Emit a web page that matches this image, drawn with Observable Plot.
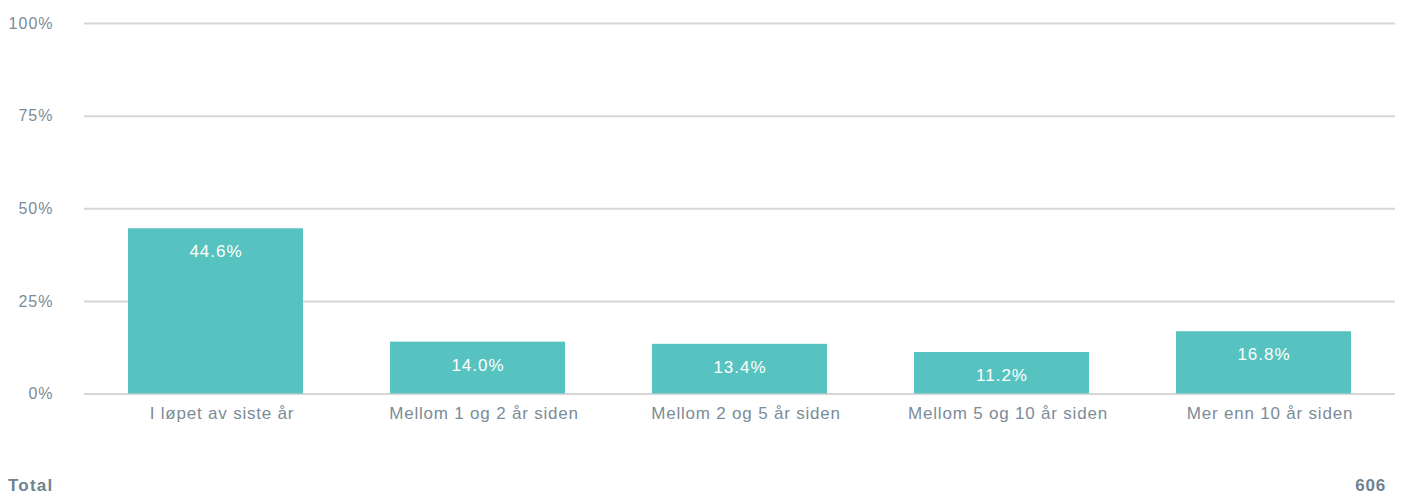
<!DOCTYPE html>
<html>
<head>
<meta charset="utf-8">
<script src="https://cdn.jsdelivr.net/npm/d3@7"></script>
<script src="https://cdn.jsdelivr.net/npm/@observablehq/plot@0.6"></script>
<style>
  html, body { margin: 0; padding: 0; background: #fff; }
  body { width: 1404px; height: 499px; position: relative; overflow: hidden; font-family: "Liberation Sans", Arial, Helvetica, sans-serif; }
  #chart svg text { letter-spacing: 1px; }
  #chart svg g[aria-label="x-axis tick label"] text { letter-spacing: 0.8px; }
  #footer { position: absolute; top: 476px; left: 8px; right: 18px; display: flex; justify-content: space-between; font-weight: bold; font-size: 17px; color: #6f828f; }
  #total-label { letter-spacing: 1.2px; }
  #total-n { letter-spacing: 0.8px; }
</style>
</head>
<body>
<div id="chart"></div>
<div id="footer"><span id="total-label"></span><span id="total-n"></span></div>
<script>
const categories = ["I løpet av siste år", "Mellom 1 og 2 år siden", "Mellom 2 og 5 år siden", "Mellom 5 og 10 år siden", "Mer enn 10 år siden"];
const values = [44.6, 14.0, 13.4, 11.2, 16.8];
const yTicks = [0, 25, 50, 75, 100];
const totalLabel = "Total";
const totalN = "606";

const data = categories.map((c, i) => ({category: c, value: values[i]}));

const chart = Plot.plot({
  width: 1404,
  height: 440,
  marginLeft: 84,
  marginRight: 9,
  marginTop: 23,
  marginBottom: 46.5,
  style: {fontFamily: '"Liberation Sans", Arial, Helvetica, sans-serif', fontSize: "16px", color: "#7b8c98", background: "#fff"},
  x: {domain: categories, paddingInner: 0.333, paddingOuter: 0.1667, label: null},
  y: {domain: [0, 100], label: null},
  marks: [
    Plot.ruleY(yTicks, {stroke: "#d6d6d6", strokeWidth: 2, strokeOpacity: 1}),
    Plot.barY(data, {x: "category", y: "value", fill: "#57c3c0"}),
    Plot.text(data, {x: "category", y: "value", text: d => d.value.toFixed(1) + "%", dy: 23, fill: "#ffffff", fontSize: 17}),
    Plot.axisY({ticks: yTicks, tickFormat: d => d + "%", tickSize: 0, tickPadding: 31, fontSize: 16, label: null}),
    Plot.axisX({tickSize: 0, tickPadding: 13, fontSize: 17, dx: 6, label: null})
  ]
});
document.getElementById("chart").appendChild(chart);
document.getElementById("total-label").textContent = totalLabel;
document.getElementById("total-n").textContent = totalN;
</script>
</body>
</html>
